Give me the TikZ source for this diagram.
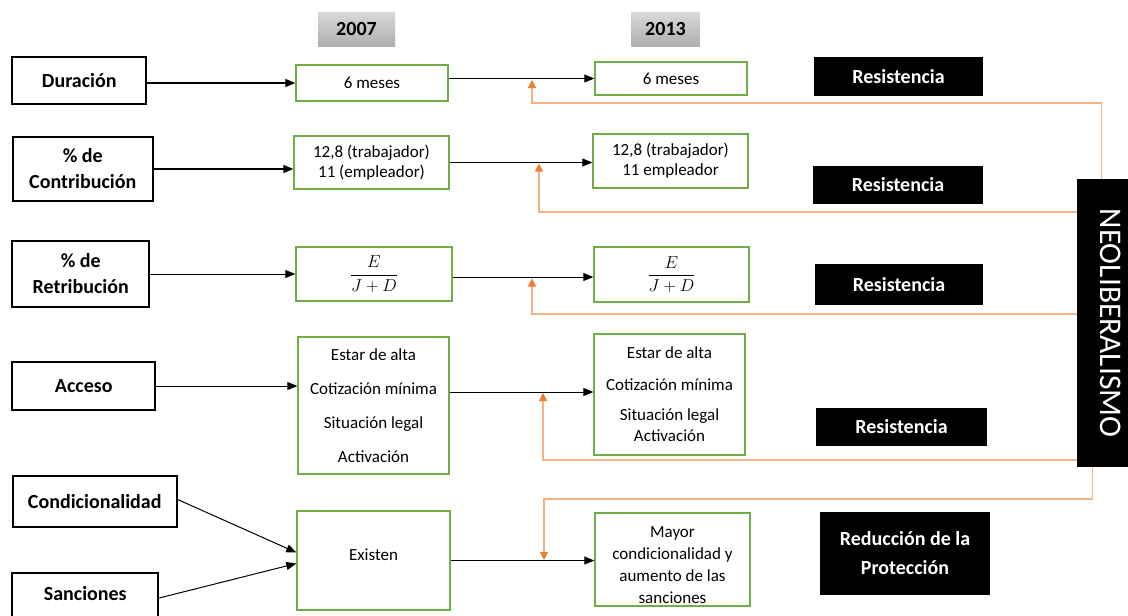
\documentclass[tikz,border=0pt]{standalone}
\usepackage{fontspec}
\usepackage{graphicx}
\setmainfont{Carlito}
\usetikzlibrary{arrows.meta,calc}
\definecolor{gboxc}{HTML}{70AD47}
\definecolor{olinec}{HTML}{F4B183}
\definecolor{oheadc}{HTML}{ED7D31}
\begin{document}
\begin{tikzpicture}[x=1pt,y=-1pt,
  lbox/.style={draw=black,line width=1.8pt,inner sep=0pt,align=center,font=\fontsize{20}{26}\selectfont\bfseries},
  gbox/.style={draw=gboxc,line width=1.4pt,inner sep=0pt,align=center,font=\fontsize{17}{20}\selectfont},
  rbox/.style={fill=black,text=white,inner sep=0pt,align=center,font=\fontsize{20}{29}\selectfont\bfseries},
  yearbox/.style={top color=black!15,bottom color=black!32,inner sep=0pt,font=\fontsize{20}{24}\selectfont\bfseries},
  neobox/.style={fill=black,text=white,inner sep=0pt,font=\fontsize{31.5}{34}\selectfont},
  larr/.style={line width=1.3pt,-{Triangle[length=10pt,width=8pt]}},
  marr/.style={line width=1pt,-{Triangle[length=10pt,width=8pt]}},
  oarr/.style={draw=olinec,line width=1.1pt,-{Triangle[length=8pt,width=8pt,color=oheadc]}}
]
\useasboundingbox (0,0) rectangle (1128,616);
\clip (0,0) rectangle (1128,616);
\fill[white] (0,0) rectangle (1128,616);

% year headers
\node[yearbox,minimum width=77pt,minimum height=34pt] (y1) at (356.5,29) {2007};
\node[yearbox,minimum width=68pt,minimum height=34pt] (y2) at (665.5,29.5) {2013};

% left boxes
\node[lbox,minimum width=134pt,minimum height=47pt] (dur) at (79.25,80.5) {Duración};
\node[lbox,minimum width=140pt,minimum height=64pt] (con) at (82.75,169) {\% de\\Contribución};
\node[lbox,minimum width=137pt,minimum height=66pt] (ret) at (80.75,274) {\% de\\Retribución};
\node[lbox,minimum width=143pt,minimum height=48pt] (acc) at (83.75,386) {Acceso};
\node[lbox,minimum width=164pt,minimum height=51pt] (cond) at (94.75,501.5) {Condicionalidad};
\node[lbox,minimum width=146pt,minimum height=50pt] (san) at (85.25,598) {\rule[-10pt]{0pt}{0pt}Sanciones};

% 2007 boxes
\node[gbox,minimum width=152pt,minimum height=36pt] (g1) at (372,83) {6 meses};
\node[gbox,minimum width=155pt,minimum height=53pt] (g2) at (371.5,162.5) {12,8 (trabajador)\\11 (empleador)};
\node[gbox,minimum width=156pt,minimum height=54pt] (g3) at (374,274) {\fontsize{17.5}{20}\selectfont$\displaystyle\frac{E}{J+D}$};
\node[gbox,minimum width=151pt,minimum height=137pt,font=\fontsize{17}{34}\selectfont] (g4) at (373.5,405.5) {Estar de alta\\Cotización mínima\\Situación legal\\Activación};
\node[gbox,minimum width=153pt,minimum height=99pt] (g5) at (373.5,560.5) {\rule[-11pt]{0pt}{0pt}Existen};

% 2013 boxes
\node[gbox,minimum width=152pt,minimum height=33pt] (h1) at (671,78.5) {6 meses};
\node[gbox,minimum width=155pt,minimum height=54pt] (h2) at (670.5,161) {12,8 (trabajador)\\11 empleador};
\node[gbox,minimum width=155pt,minimum height=55pt] (h3) at (671.5,274.5) {\fontsize{17.5}{20}\selectfont$\displaystyle\frac{E}{J+D}$};
\node[gbox,minimum width=151pt,minimum height=121pt,font=\fontsize{17}{21}\selectfont] (h4) at (669.5,394.5) {Estar de alta\\[11pt]Cotización mínima\\[9pt]Situación legal\\Activación};
\node[gbox,minimum width=155pt,minimum height=93pt,font=\fontsize{17}{22}\selectfont] (h5) at (672.5,559.5) {\rule{0pt}{22pt}Mayor\\condicionalidad y\\aumento de las\\sanciones};

% right black boxes
\node[rbox,minimum width=169pt,minimum height=39pt] (r1) at (898.5,76.5) {Resistencia};
\node[rbox,minimum width=170pt,minimum height=38pt] (r2) at (898,185) {Resistencia};
\node[rbox,minimum width=168pt,minimum height=41pt] (r3) at (899,284.5) {Resistencia};
\node[rbox,minimum width=171pt,minimum height=38pt] (r4) at (901.5,427) {Resistencia};
\node[rbox,minimum width=170pt,minimum height=83pt] (r5) at (905,553.5) {Reducción de la\\Protección};

% neoliberalismo
\node[neobox,minimum width=68pt,minimum height=288pt] (neo) at (1111,323) {\rotatebox{-90}{NEOLIBERALISMO}};

% orange feedback lines
\coordinate (k1) at (532,103);
\coordinate (t1) at (532,80);
\coordinate (k2) at (539,212);
\coordinate (t2) at (539,163.5);
\coordinate (k3) at (532,314);
\coordinate (t3) at (532,278.5);
\coordinate (k4) at (543,460);
\coordinate (t4) at (543,393);
\coordinate (k5) at (544,499);
\coordinate (t5) at (544,560);
\draw[oarr] ([xshift=25pt]neo.north west) |- (k1) -- (t1);
\draw[oarr] (k2 -| neo.west) -- (k2) -- (t2);
\draw[oarr] (k3 -| neo.west) -- (k3) -- (t3);
\draw[oarr] (k4 -| neo.west) -- (k4) -- (t4);
\draw[oarr] ([xshift=16pt]neo.south west) |- (k5) -- (t5);

% black connectors
\draw[larr] (dur.east |- g1.west) -- (g1.west);
\draw[marr] (g1.east |- h1.west) -- (h1.west);
\draw[larr] (con.east) -- (con.east -| g2.west);
\draw[marr] (g2.east) -- (g2.east -| h2.west);
\draw[marr] (ret.east) -- (ret.east -| g3.west);
\draw[marr] ([yshift=-3pt]g3.east) -- ([yshift=-3pt]g3.east -| h3.west);
\draw[marr] (acc.east) -- (acc.east -| g4.west);
\coordinate (h4in) at ($(h4.west)+(0,-2.5)$);
\draw[marr] (g4.east |- h4in) -- (h4in);
\draw[marr] ([yshift=2pt]cond.east) -- ($(g5.west)+(0,-8)$);
\draw[marr] (san.east) -- ($(g5.west)+(0,3)$);
\draw[marr] (g5.east) -- (g5.east -| h5.west);
\end{tikzpicture}
\end{document}
